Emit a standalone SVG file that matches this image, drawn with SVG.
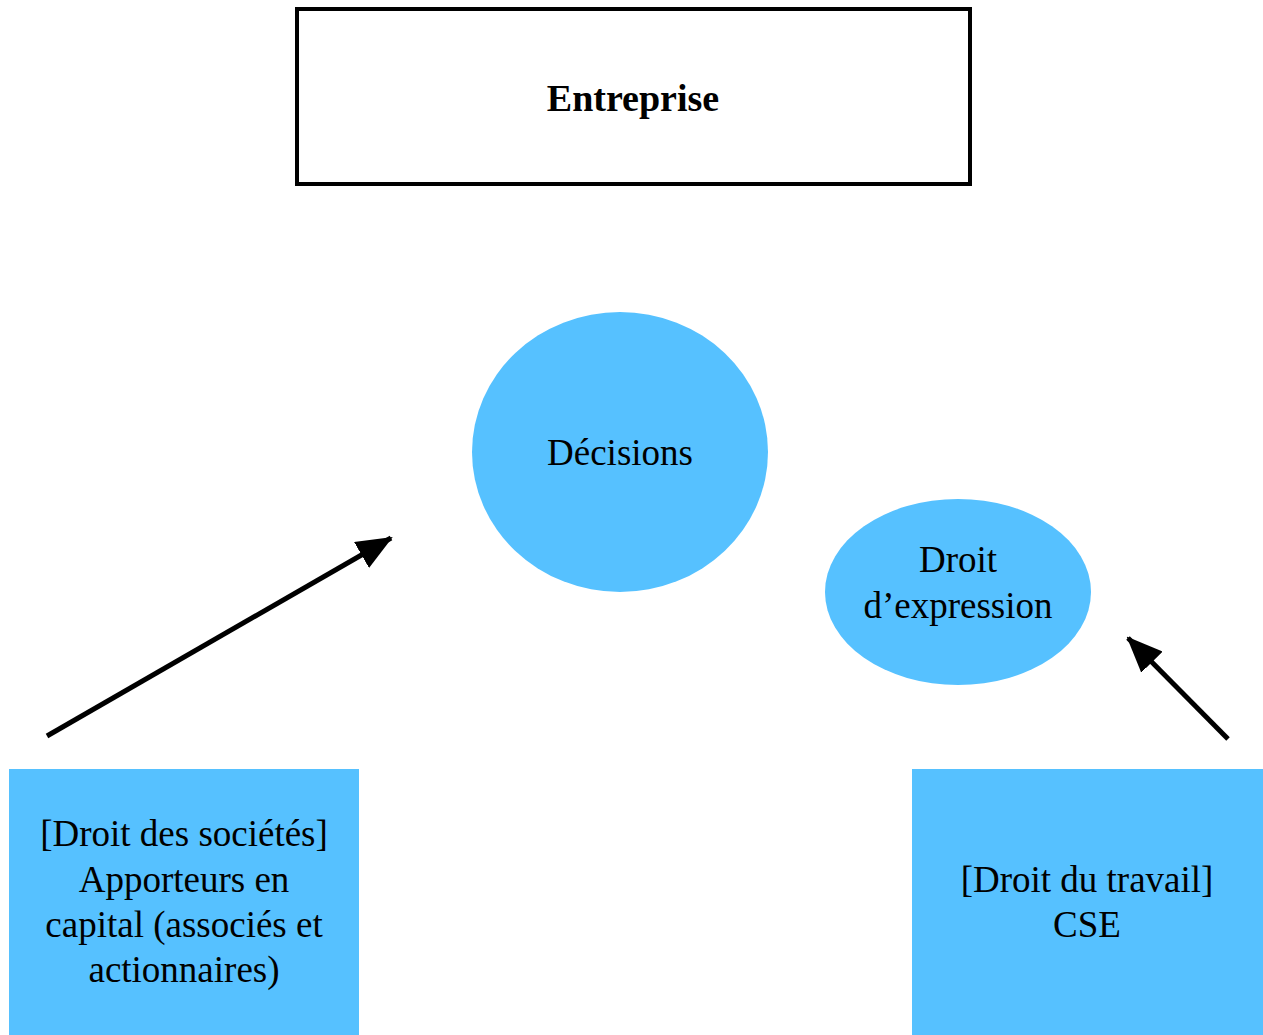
<svg xmlns="http://www.w3.org/2000/svg" width="1263" height="1035" viewBox="0 0 1263 1035">
<style>
text{font-family:"Liberation Serif","Times New Roman",serif;font-size:37px;fill:#000;text-anchor:middle}
.blue{fill:#56C1FF}
.conn{stroke:#000;stroke-width:5;fill:none}
</style>
<defs>
<marker id="ah" markerUnits="userSpaceOnUse" markerWidth="36" markerHeight="30" refX="34" refY="15" orient="auto">
<path d="M0,0 L36,15 L0,30 Z" fill="#000"/>
</marker>
</defs>
<rect width="1263" height="1035" fill="#fff"/>
<g id="entreprise">
<rect x="297" y="9" width="673" height="175" fill="#fff" stroke="#000" stroke-width="4"/>
<text x="633" y="111" font-weight="bold" style="font-size:38px">Entreprise</text>
</g>
<g id="decisions">
<ellipse class="blue" cx="620" cy="452" rx="148" ry="140"/>
<text x="620" y="465">Décisions</text>
</g>
<g id="droit-expression">
<ellipse class="blue" cx="958" cy="592" rx="133" ry="93"/>
<text x="958" y="572">Droit</text>
<text x="958" y="618">d’expression</text>
</g>
<g id="apporteurs">
<rect class="blue" x="9" y="769" width="350" height="266"/>
<text x="184" y="846">[Droit des sociétés]</text>
<text x="184" y="892">Apporteurs en</text>
<text x="184" y="937">capital (associés et</text>
<text x="184" y="982">actionnaires)</text>
</g>
<g id="cse">
<rect class="blue" x="912" y="769" width="351" height="266"/>
<text x="1087" y="892">[Droit du travail]</text>
<text x="1087" y="937">CSE</text>
</g>
<g id="connectors">
<line class="conn" x1="47" y1="736" x2="391" y2="538" marker-end="url(#ah)"/>
<line class="conn" x1="1228" y1="739" x2="1128" y2="638" marker-end="url(#ah)"/>
</g>
</svg>
